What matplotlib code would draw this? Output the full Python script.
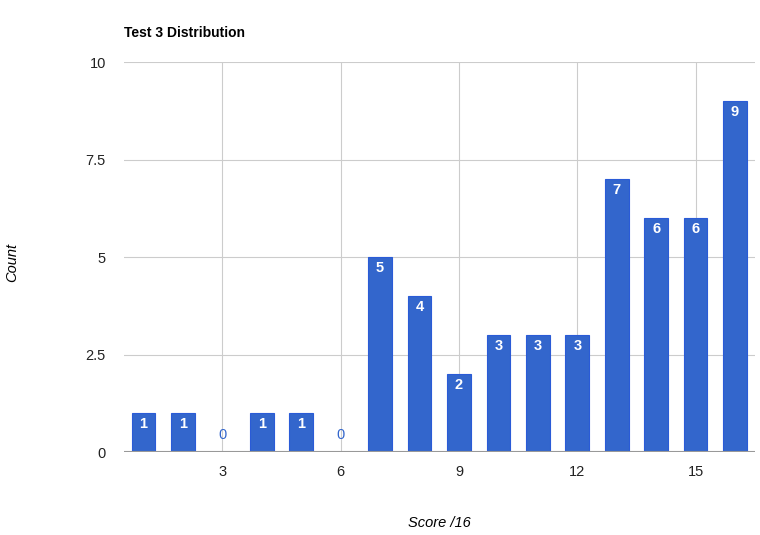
import matplotlib.pyplot as plt

plt.rcParams['font.family'] = ['Liberation Sans', 'DejaVu Sans']

scores = list(range(1, 17))
counts = [1, 1, 0, 1, 1, 0, 5, 4, 2, 3, 3, 3, 7, 6, 6, 9]
x_ticks = [3, 6, 9, 12, 15]
y_ticks = [0, 2.5, 5, 7.5, 10]
y_tick_labels = ["0", "2.5", "5", "7.5", "10"]

BLUE = "#3366cc"

fig = plt.figure(figsize=(7.6, 5.35), dpi=100)
ax = fig.add_axes([0.163, 0.155, 0.83, 0.729])

ax.bar(scores, counts, width=0.6, color=BLUE, edgecolor="#2a5bd7", linewidth=0.8, zorder=3)

# labels: white inside bar, blue above baseline for zeros
for s, c in zip(scores, counts):
    if c > 0:
        ax.annotate(str(c), (s, c), xytext=(0, -3), textcoords="offset points",
                    ha="center", va="top", color="white", fontweight="bold", fontsize=10.5, zorder=4)
    else:
        ax.annotate(str(c), (s, 0), xytext=(0, 7), textcoords="offset points",
                    ha="center", va="bottom", color=BLUE, fontsize=10.5, zorder=4)

ax.set_xlim(0.5, 16.5)
ax.set_ylim(0, 10)
ax.set_xticks(x_ticks)
ax.set_yticks(y_ticks)
ax.set_yticklabels(y_tick_labels)
ax.grid(True, color="#cccccc", linewidth=0.8, zorder=0)
ax.axhline(0, color="#999999", linewidth=1.5, zorder=5)
for sp in ax.spines.values():
    sp.set_visible(False)
ax.tick_params(length=0, labelsize=10.5, colors="#222222", pad=9)
ax.tick_params(axis="y", pad=13)

fig.text(0.578, 0.022, "Score /16", fontstyle="italic", fontsize=10.5, ha="center", va="center")
fig.text(0.016, 0.51, "Count", rotation=90, fontstyle="italic", fontsize=10.5, ha="center", va="center")
fig.text(0.163, 0.938, "Test 3 Distribution", fontweight="bold", fontsize=10, ha="left", va="center")

fig.savefig("out.png", dpi=100, facecolor="white")
